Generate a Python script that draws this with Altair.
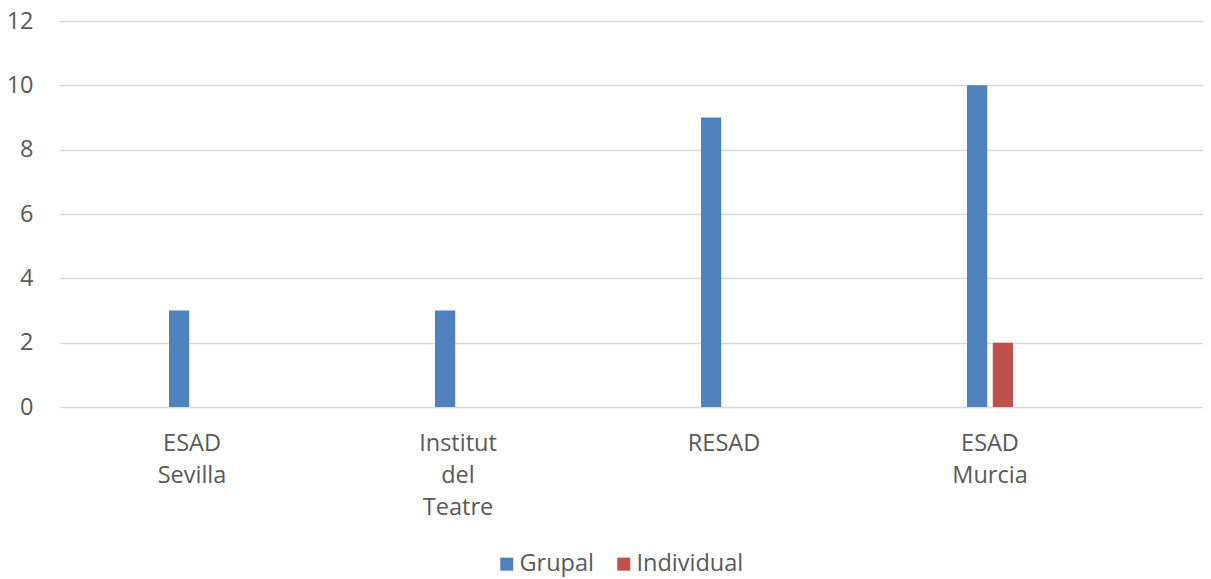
import altair as alt
import pandas as pd

categories = ["ESAD Sevilla", "Institut del Teatre", "RESAD", "ESAD Murcia"]
series = ["Grupal", "Individual"]
grupal = [3, 3, 9, 10]
individual = [0, 0, 0, 2]
colors = ["#4F81BD", "#C0504D"]

rows = []
for c, g, i in zip(categories, grupal, individual):
    rows.append({"cat": c, "serie": "Grupal", "valor": g})
    rows.append({"cat": c, "serie": "Individual", "valor": i})
df = pd.DataFrame(rows)

FONT = "Open Sans"
TXT = "#595959"
FS = 23.5

chart = alt.Chart(df).mark_bar().encode(
    x=alt.X("cat:N", sort=categories, title=None,
            scale=alt.Scale(paddingInner=0, paddingOuter=0.1504, align=0),
            axis=alt.Axis(labelAngle=0, domain=False, ticks=False, tickSize=0,
                          labelExpr="split(datum.label, ' ')",
                          labelLineHeight=32, labelPadding=24,
                          labelFontSize=FS, labelColor=TXT, labelFont=FONT,
                          labelBaseline="top")),
    xOffset=alt.XOffset("serie:N", sort=series,
                        scale=alt.Scale(range=[110, 156], paddingInner=0.216, paddingOuter=0)),
    y=alt.Y("valor:Q", title=None,
            scale=alt.Scale(domain=[0, 12], nice=False),
            axis=alt.Axis(values=[0, 2, 4, 6, 8, 10, 12], domain=False, ticks=False,
                          tickSize=0, labelPadding=26, labelFontSize=FS,
                          labelColor=TXT, labelFont=FONT,
                          gridColor="#D9D9D9", gridWidth=1.5)),
    color=alt.Color("serie:N", sort=series, title=None,
                    scale=alt.Scale(domain=series, range=colors),
                    legend=alt.Legend(orient="none", legendX=436, legendY=531,
                                      direction="horizontal", symbolType="square",
                                      symbolSize=169, symbolStrokeWidth=0,
                                      labelFontSize=FS, labelColor=TXT, labelFont=FONT,
                                      labelOffset=1, columnPadding=18)),
).properties(
    width=1144, height=386,
    autosize=alt.AutoSizeParams(type="none"),
    padding={"left": 51, "top": 13, "right": 0, "bottom": 171},
).configure_view(stroke=None)

chart.save("out.html", embed_options={"renderer": "svg", "actions": False})
